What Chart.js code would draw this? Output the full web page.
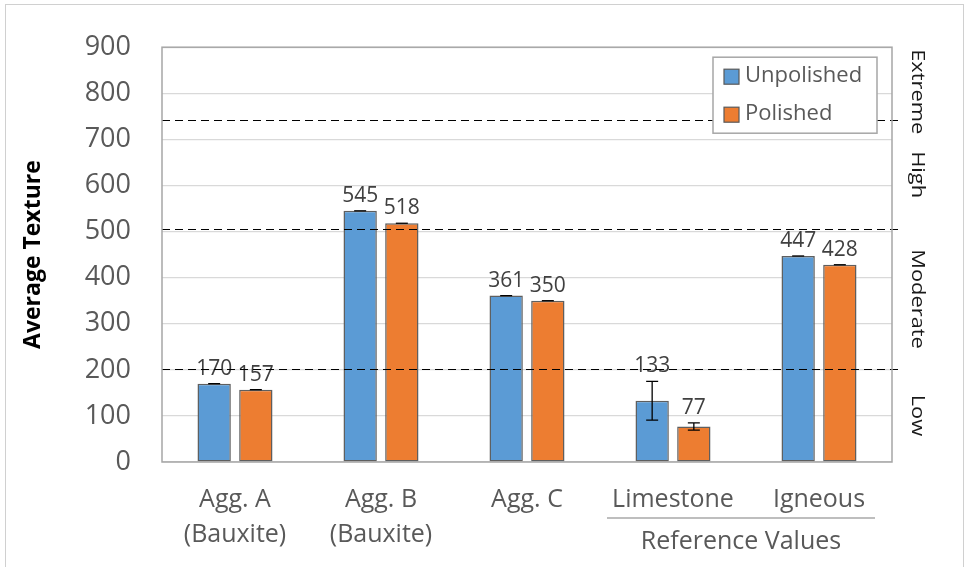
<!DOCTYPE html>
<html>
<head>
<meta charset="utf-8">
<script src="https://cdn.jsdelivr.net/npm/chart.js@4.4.1/dist/chart.umd.min.js"></script>
<style>
  html, body { margin: 0; padding: 0; background: #fff; }
  #wrap { width: 969px; height: 567px; position: relative; }
</style>
</head>
<body>
<div id="wrap"><canvas id="chart" width="969" height="567"></canvas></div>
<script>
// data
const categories = [['Agg. A', '(Bauxite)'], ['Agg. B', '(Bauxite)'], 'Agg. C', 'Limestone', 'Igneous'];
const seriesNames = ['Unpolished', 'Polished'];
const unpolished = [170, 545, 361, 133, 447];
const polished = [157, 518, 350, 77, 428];
const unpolishedErr = [0, 0, 0, 42, 0];
const polishedErr = [0, 0, 0, 8, 0];
const thresholds = [202, 505, 742];
const ratings = ['Low', 'Moderate', 'High', 'Extreme'];
const yMin = 0, yMax = 900, yStep = 100;
const groupLabel = 'Reference Values';
const groupCats = [3, 4];

const FONT = '"Open Sans", "Noto Sans", sans-serif';
const TEXT = '#595959';

const extras = {
  id: 'extras',
  beforeDraw(chart) {
    const ctx = chart.ctx;
    ctx.save();
    ctx.fillStyle = '#fff';
    ctx.fillRect(0, 0, chart.width, chart.height);
    ctx.strokeStyle = '#d0d0d0';
    ctx.lineWidth = 1;
    ctx.strokeRect(5.5, 4.5, chart.width - 11, chart.height + 10);
    ctx.restore();
  },
  afterDatasetsDraw(chart) {
    const ctx = chart.ctx;
    const area = chart.chartArea;
    const y = chart.scales.y;
    const x = chart.scales.x;
    const errs = [unpolishedErr, polishedErr];

    ctx.save();
    // error bars and value labels
    chart.data.datasets.forEach((ds, di) => {
      const meta = chart.getDatasetMeta(di);
      meta.data.forEach((bar, i) => {
        const v = ds.data[i];
        const e = errs[di][i];
        const top = y.getPixelForValue(v + e);
        const bot = y.getPixelForValue(v - e);
        ctx.strokeStyle = '#000';
        ctx.lineWidth = 1.3;
        ctx.beginPath();
        ctx.moveTo(bar.x, top); ctx.lineTo(bar.x, bot);
        ctx.moveTo(bar.x - 6, top); ctx.lineTo(bar.x + 6, top);
        if (e > 0) { ctx.moveTo(bar.x - 6, bot); ctx.lineTo(bar.x + 6, bot); }
        ctx.stroke();

        ctx.fillStyle = '#404040';
        ctx.font = '21px ' + FONT;
        ctx.textAlign = 'center';
        ctx.textBaseline = 'alphabetic';
        ctx.fillText(String(v), bar.x, Math.min(top, bar.y) - 9);
      });
    });

    // rating thresholds
    ctx.strokeStyle = '#000';
    ctx.lineWidth = 1.2;
    ctx.setLineDash([8, 5]);
    thresholds.forEach(t => {
      const py = Math.round(y.getPixelForValue(t)) + 0.5;
      ctx.beginPath();
      ctx.moveTo(area.left, py);
      ctx.lineTo(area.right + 6, py);
      ctx.stroke();
    });
    ctx.setLineDash([]);

    // plot border
    ctx.strokeStyle = '#a6a6a6';
    ctx.lineWidth = 1.5;
    ctx.strokeRect(area.left, area.top, area.right - area.left, area.bottom - area.top);

    // legend
    const lx = area.left + 551, ly = area.top + 10, lw = 164, lh = 76;
    ctx.fillStyle = '#fff';
    ctx.fillRect(lx, ly, lw, lh);
    ctx.strokeStyle = '#a6a6a6';
    ctx.lineWidth = 1.5;
    ctx.strokeRect(lx, ly, lw, lh);
    chart.data.datasets.forEach((ds, di) => {
      const cy = ly + 19 + di * 38;
      ctx.fillStyle = ds.backgroundColor;
      ctx.fillRect(lx + 11, cy - 7, 15, 15);
      ctx.strokeStyle = '#595959';
      ctx.lineWidth = 1.2;
      ctx.strokeRect(lx + 11, cy - 7, 15, 15);
      ctx.fillStyle = TEXT;
      ctx.font = '22px ' + FONT;
      ctx.textAlign = 'left';
      ctx.textBaseline = 'middle';
      ctx.fillText(ds.label, lx + 32, cy);
    });

    // rating names on the right, rotated
    const bounds = [yMin, ...thresholds, yMax];
    const stretch = 1.15;
    ctx.fillStyle = '#1a1a1a';
    ctx.font = '19px ' + FONT;
    ctx.textAlign = 'center';
    ctx.textBaseline = 'middle';
    ratings.forEach((name, i) => {
      const half = ctx.measureText(name).width * stretch / 2;
      let cy = y.getPixelForValue((bounds[i] + bounds[i + 1]) / 2);
      cy = Math.max(cy, area.top + half + 2);
      ctx.save();
      ctx.translate(area.right + 25, cy);
      ctx.rotate(Math.PI / 2);
      ctx.scale(stretch, 1);
      ctx.fillText(name, 0, 0);
      ctx.restore();
    });

    // group bracket under reference categories
    const cw = x.getPixelForValue(1) - x.getPixelForValue(0);
    const gx0 = x.getPixelForValue(groupCats[0]) - cw / 2 + 7;
    const gx1 = x.getPixelForValue(groupCats[1]) + cw / 2 - 17;
    ctx.strokeStyle = '#7f7f7f';
    ctx.lineWidth = 1.2;
    ctx.beginPath();
    ctx.moveTo(gx0, area.bottom + 56);
    ctx.lineTo(gx1, area.bottom + 56);
    ctx.stroke();
    ctx.fillStyle = TEXT;
    ctx.font = '25px ' + FONT;
    ctx.textAlign = 'center';
    ctx.textBaseline = 'middle';
    ctx.fillText(groupLabel, (gx0 + gx1) / 2, area.bottom + 80);
    ctx.restore();
  }
};

new Chart(document.getElementById('chart'), {
  type: 'bar',
  data: {
    labels: categories,
    datasets: [
      { label: seriesNames[0], data: unpolished, backgroundColor: '#5B9BD5', borderColor: '#5f5f5f', borderWidth: 1.5, borderSkipped: false },
      { label: seriesNames[1], data: polished, backgroundColor: '#ED7D31', borderColor: '#5f5f5f', borderWidth: 1.5, borderSkipped: false }
    ]
  },
  options: {
    responsive: false,
    animation: false,
    layout: { padding: { top: 35, right: 77, left: 0, bottom: 0 } },
    datasets: { bar: { categoryPercentage: 0.571, barPercentage: 0.8 } },
    plugins: { legend: { display: false }, tooltip: { enabled: false } },
    scales: {
      x: {
        grid: { display: false, drawTicks: false },
        border: { display: false },
        ticks: { color: TEXT, font: { family: FONT, size: 25, lineHeight: 1.4 }, padding: 20, maxRotation: 0, autoSkip: false },
        afterFit: s => { s.height = 105; }
      },
      y: {
        min: yMin, max: yMax,
        grid: { color: '#d9d9d9', lineWidth: 1.2, drawTicks: false },
        border: { display: false },
        ticks: { stepSize: yStep, color: TEXT, font: { family: FONT, size: 27 }, padding: 31 },
        title: { display: true, text: 'Average Texture', color: '#000', font: { family: FONT, size: 23, weight: 'bold' }, padding: { top: 20, bottom: 0 } },
        afterFit: s => { s.width = 162; }
      }
    }
  },
  plugins: [extras]
});
</script>
</body>
</html>
